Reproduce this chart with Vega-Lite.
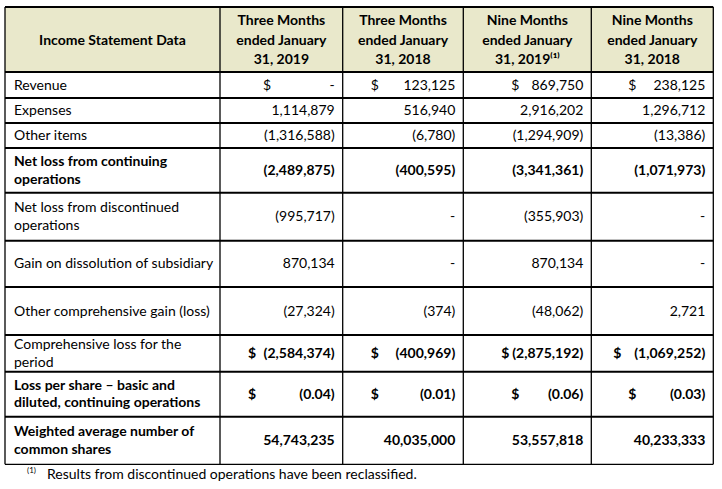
{
  "$schema": "https://vega.github.io/schema/vega-lite/v6.json",
  "width": 722,
  "height": 489,
  "autosize": "none",
  "padding": 0,
  "background": "white",
  "view": {"stroke": null},
  "config": {"text": {"font": "Lato", "fontSize": 14, "color": "#000000"}},
  "datasets": {
    "headers": [
      {"key": "label", "col": 0, "title": "Income Statement Data"},
      {"key": "q3_2019", "col": 1, "title": "Three Months\nended January\n31, 2019"},
      {"key": "q3_2018", "col": 2, "title": "Three Months\nended January\n31, 2018"},
      {"key": "n9_2019", "col": 3, "title": "Nine Months\nended January\n31, 2019⁽¹⁾"},
      {"key": "n9_2018", "col": 4, "title": "Nine Months\nended January\n31, 2018"}
    ],
    "statement": [
      {"row": 1, "item": "Revenue", "cur": "$", "q3_2019": 0, "q3_2018": 123125, "n9_2019": 869750, "n9_2018": 238125},
      {"row": 2, "item": "Expenses", "cur": "", "q3_2019": 1114879, "q3_2018": 516940, "n9_2019": 2916202, "n9_2018": 1296712},
      {"row": 3, "item": "Other items", "cur": "", "q3_2019": -1316588, "q3_2018": -6780, "n9_2019": -1294909, "n9_2018": -13386},
      {"row": 4, "item": "Net loss from continuing\noperations", "cur": "", "q3_2019": -2489875, "q3_2018": -400595, "n9_2019": -3341361, "n9_2018": -1071973},
      {"row": 5, "item": "Net loss from discontinued\noperations", "cur": "", "q3_2019": -995717, "q3_2018": 0, "n9_2019": -355903, "n9_2018": 0},
      {"row": 6, "item": "Gain on dissolution of subsidiary", "cur": "", "q3_2019": 870134, "q3_2018": 0, "n9_2019": 870134, "n9_2018": 0},
      {"row": 7, "item": "Other comprehensive gain (loss)", "cur": "", "q3_2019": -27324, "q3_2018": -374, "n9_2019": -48062, "n9_2018": 2721},
      {"row": 8, "item": "Comprehensive loss for the\nperiod", "cur": "$", "q3_2019": -2584374, "q3_2018": -400969, "n9_2019": -2875192, "n9_2018": -1069252},
      {"row": 9, "item": "Loss per share – basic and\ndiluted, continuing operations", "cur": "$", "q3_2019": -0.04, "q3_2018": -0.01, "n9_2019": -0.06, "n9_2018": -0.03},
      {"row": 10, "item": "Weighted average number of\ncommon shares", "cur": "", "q3_2019": 54743235, "q3_2018": 40035000, "n9_2019": 53557818, "n9_2018": 40233333}
    ],
    "hlines": [{"r": 0}, {"r": 1}, {"r": 2}, {"r": 3}, {"r": 4}, {"r": 5}, {"r": 6}, {"r": 7}, {"r": 8}, {"r": 9}, {"r": 10}, {"r": 11}],
    "vlines": [{"c": 0}, {"c": 1}, {"c": 2}, {"c": 3}, {"c": 4}, {"c": 5}],
    "notes": [{"row": 11, "ref": "(1)", "note": "Results from discontinued operations have been reclassified."}]
  },
  "layer": [
    {
      "data": {"values": [{"part": "header"}]},
      "mark": {"type": "rect", "fill": "#E9E8CB"},
      "encoding": {
        "x": {"datum": 0, "type": "quantitative", "scale": {"domain": [0, 1, 2, 3, 4, 5], "range": [5, 220, 342.7, 463.3, 591.3, 713.3], "nice": false, "zero": false}, "axis": null},
        "x2": {"datum": 5},
        "y": {"datum": 0, "type": "quantitative", "scale": {"domain": [0, 1, 2, 3, 4, 5, 6, 7, 8, 9, 10, 11, 12], "range": [7, 72, 98, 123, 148, 192.7, 240.7, 287, 335, 371.7, 416.7, 464.3, 486], "nice": false, "zero": false}, "axis": null},
        "y2": {"datum": 1}
      }
    },
    {
      "data": {"name": "hlines"},
      "mark": {"type": "rule", "color": "#000000"},
      "encoding": {
        "x": {"datum": 0, "type": "quantitative", "scale": {"domain": [0, 1, 2, 3, 4, 5], "range": [5, 220, 342.7, 463.3, 591.3, 713.3], "nice": false, "zero": false}, "axis": null},
        "x2": {"datum": 5},
        "y": {"field": "r", "type": "quantitative", "scale": {"domain": [0, 1, 2, 3, 4, 5, 6, 7, 8, 9, 10, 11, 12], "range": [7, 72, 98, 123, 148, 192.7, 240.7, 287, 335, 371.7, 416.7, 464.3, 486], "nice": false, "zero": false}, "axis": null},
        "strokeWidth": {"condition": {"test": "datum.r == 11", "value": 1.3}, "value": 2}
      }
    },
    {
      "data": {"name": "vlines"},
      "mark": {"type": "rule", "color": "#000000", "strokeWidth": 1.3},
      "encoding": {
        "x": {"field": "c", "type": "quantitative", "scale": {"domain": [0, 1, 2, 3, 4, 5], "range": [5, 220, 342.7, 463.3, 591.3, 713.3], "nice": false, "zero": false}, "axis": null},
        "y": {"datum": 0, "type": "quantitative", "scale": {"domain": [0, 1, 2, 3, 4, 5, 6, 7, 8, 9, 10, 11, 12], "range": [7, 72, 98, 123, 148, 192.7, 240.7, 287, 335, 371.7, 416.7, 464.3, 486], "nice": false, "zero": false}, "axis": null},
        "y2": {"datum": 11}
      }
    },
    {
      "data": {"name": "headers"},
      "transform": [{"calculate": "datum.col + 0.5", "as": "xc"}],
      "mark": {"type": "text", "align": "center", "baseline": "middle", "fontWeight": "bold", "lineBreak": "\n", "lineHeight": 19.5, "dy": {"expr": "1 - (length(split(datum.title, '\\n')) - 1) * 9.75"}},
      "encoding": {
        "x": {"field": "xc", "type": "quantitative", "scale": {"domain": [0, 1, 2, 3, 4, 5], "range": [5, 220, 342.7, 463.3, 591.3, 713.3], "nice": false, "zero": false}, "axis": null},
        "y": {"datum": 0.5, "type": "quantitative", "scale": {"domain": [0, 1, 2, 3, 4, 5, 6, 7, 8, 9, 10, 11, 12], "range": [7, 72, 98, 123, 148, 192.7, 240.7, 287, 335, 371.7, 416.7, 464.3, 486], "nice": false, "zero": false}, "axis": null},
        "text": {"field": "title"}
      }
    },
    {
      "data": {"name": "statement"},
      "transform": [{"calculate": "datum.row + 0.5", "as": "yc"}],
      "mark": {"type": "text", "align": "left", "baseline": "middle", "lineBreak": "\n", "lineHeight": 17.5, "dx": 9, "dy": {"expr": "0.5 - (length(split(datum.item, '\\n')) - 1) * 8.75"}, "fontWeight": {"expr": "(datum.row == 4 || datum.row == 9 || datum.row == 10) ? 'bold' : 'normal'"}},
      "encoding": {
        "x": {"datum": 0, "type": "quantitative", "scale": {"domain": [0, 1, 2, 3, 4, 5], "range": [5, 220, 342.7, 463.3, 591.3, 713.3], "nice": false, "zero": false}, "axis": null},
        "y": {"field": "yc", "type": "quantitative", "scale": {"domain": [0, 1, 2, 3, 4, 5, 6, 7, 8, 9, 10, 11, 12], "range": [7, 72, 98, 123, 148, 192.7, 240.7, 287, 335, 371.7, 416.7, 464.3, 486], "nice": false, "zero": false}, "axis": null},
        "text": {"field": "item"}
      }
    },
    {
      "data": {"name": "statement"},
      "transform": [
        {"fold": ["q3_2019", "q3_2018", "n9_2019", "n9_2018"], "as": ["key", "v"]},
        {"lookup": "key", "from": {"data": {"name": "headers"}, "key": "key", "fields": ["col"]}},
        {"calculate": "datum.col + 1", "as": "xr"},
        {"calculate": "datum.row + 0.5", "as": "yc"},
        {"calculate": "datum.v == 0 ? '-' : (abs(datum.v) < 1 ? format(datum.v, '(.2f') : format(datum.v, '(,'))", "as": "txt"}
      ],
      "mark": {"type": "text", "align": "right", "baseline": "middle", "dx": -8, "dy": 0.5, "fontWeight": {"expr": "(datum.row == 4 || datum.row == 8 || datum.row == 9 || datum.row == 10) ? 'bold' : 'normal'"}},
      "encoding": {
        "x": {"field": "xr", "type": "quantitative", "scale": {"domain": [0, 1, 2, 3, 4, 5], "range": [5, 220, 342.7, 463.3, 591.3, 713.3], "nice": false, "zero": false}, "axis": null},
        "y": {"field": "yc", "type": "quantitative", "scale": {"domain": [0, 1, 2, 3, 4, 5, 6, 7, 8, 9, 10, 11, 12], "range": [7, 72, 98, 123, 148, 192.7, 240.7, 287, 335, 371.7, 416.7, 464.3, 486], "nice": false, "zero": false}, "axis": null},
        "text": {"field": "txt"}
      }
    },
    {
      "data": {"name": "statement"},
      "transform": [
        {"filter": "datum.cur == '$'"},
        {"fold": ["q3_2019", "q3_2018", "n9_2019", "n9_2018"], "as": ["key", "v"]},
        {"lookup": "key", "from": {"data": {"name": "headers"}, "key": "key", "fields": ["col"]}},
        {"calculate": "datum.row + 0.5", "as": "yc"}
      ],
      "mark": {"type": "text", "align": "left", "baseline": "middle", "dy": 0.5, "dx": {"expr": "datum.col == 1 ? (datum.row == 1 ? 43 : 28) : datum.col == 3 ? (datum.row == 8 ? 38 : 48) : datum.col == 4 ? (datum.row == 8 ? 22 : 37) : 28"}, "fontWeight": {"expr": "(datum.row == 8 || datum.row == 9) ? 'bold' : 'normal'"}},
      "encoding": {
        "x": {"field": "col", "type": "quantitative", "scale": {"domain": [0, 1, 2, 3, 4, 5], "range": [5, 220, 342.7, 463.3, 591.3, 713.3], "nice": false, "zero": false}, "axis": null},
        "y": {"field": "yc", "type": "quantitative", "scale": {"domain": [0, 1, 2, 3, 4, 5, 6, 7, 8, 9, 10, 11, 12], "range": [7, 72, 98, 123, 148, 192.7, 240.7, 287, 335, 371.7, 416.7, 464.3, 486], "nice": false, "zero": false}, "axis": null},
        "text": {"field": "cur"}
      }
    },
    {
      "data": {"name": "notes"},
      "transform": [{"calculate": "datum.row + 0.5", "as": "yc"}],
      "mark": {"type": "text", "align": "left", "baseline": "middle", "fontSize": 8, "dx": 22, "dy": -4},
      "encoding": {
        "x": {"datum": 0, "type": "quantitative", "scale": {"domain": [0, 1, 2, 3, 4, 5], "range": [5, 220, 342.7, 463.3, 591.3, 713.3], "nice": false, "zero": false}, "axis": null},
        "y": {"field": "yc", "type": "quantitative", "scale": {"domain": [0, 1, 2, 3, 4, 5, 6, 7, 8, 9, 10, 11, 12], "range": [7, 72, 98, 123, 148, 192.7, 240.7, 287, 335, 371.7, 416.7, 464.3, 486], "nice": false, "zero": false}, "axis": null},
        "text": {"field": "ref"}
      }
    },
    {
      "data": {"name": "notes"},
      "transform": [{"calculate": "datum.row + 0.5", "as": "yc"}],
      "mark": {"type": "text", "align": "left", "baseline": "middle", "dx": 42},
      "encoding": {
        "x": {"datum": 0, "type": "quantitative", "scale": {"domain": [0, 1, 2, 3, 4, 5], "range": [5, 220, 342.7, 463.3, 591.3, 713.3], "nice": false, "zero": false}, "axis": null},
        "y": {"field": "yc", "type": "quantitative", "scale": {"domain": [0, 1, 2, 3, 4, 5, 6, 7, 8, 9, 10, 11, 12], "range": [7, 72, 98, 123, 148, 192.7, 240.7, 287, 335, 371.7, 416.7, 464.3, 486], "nice": false, "zero": false}, "axis": null},
        "text": {"field": "note"}
      }
    }
  ]
}
